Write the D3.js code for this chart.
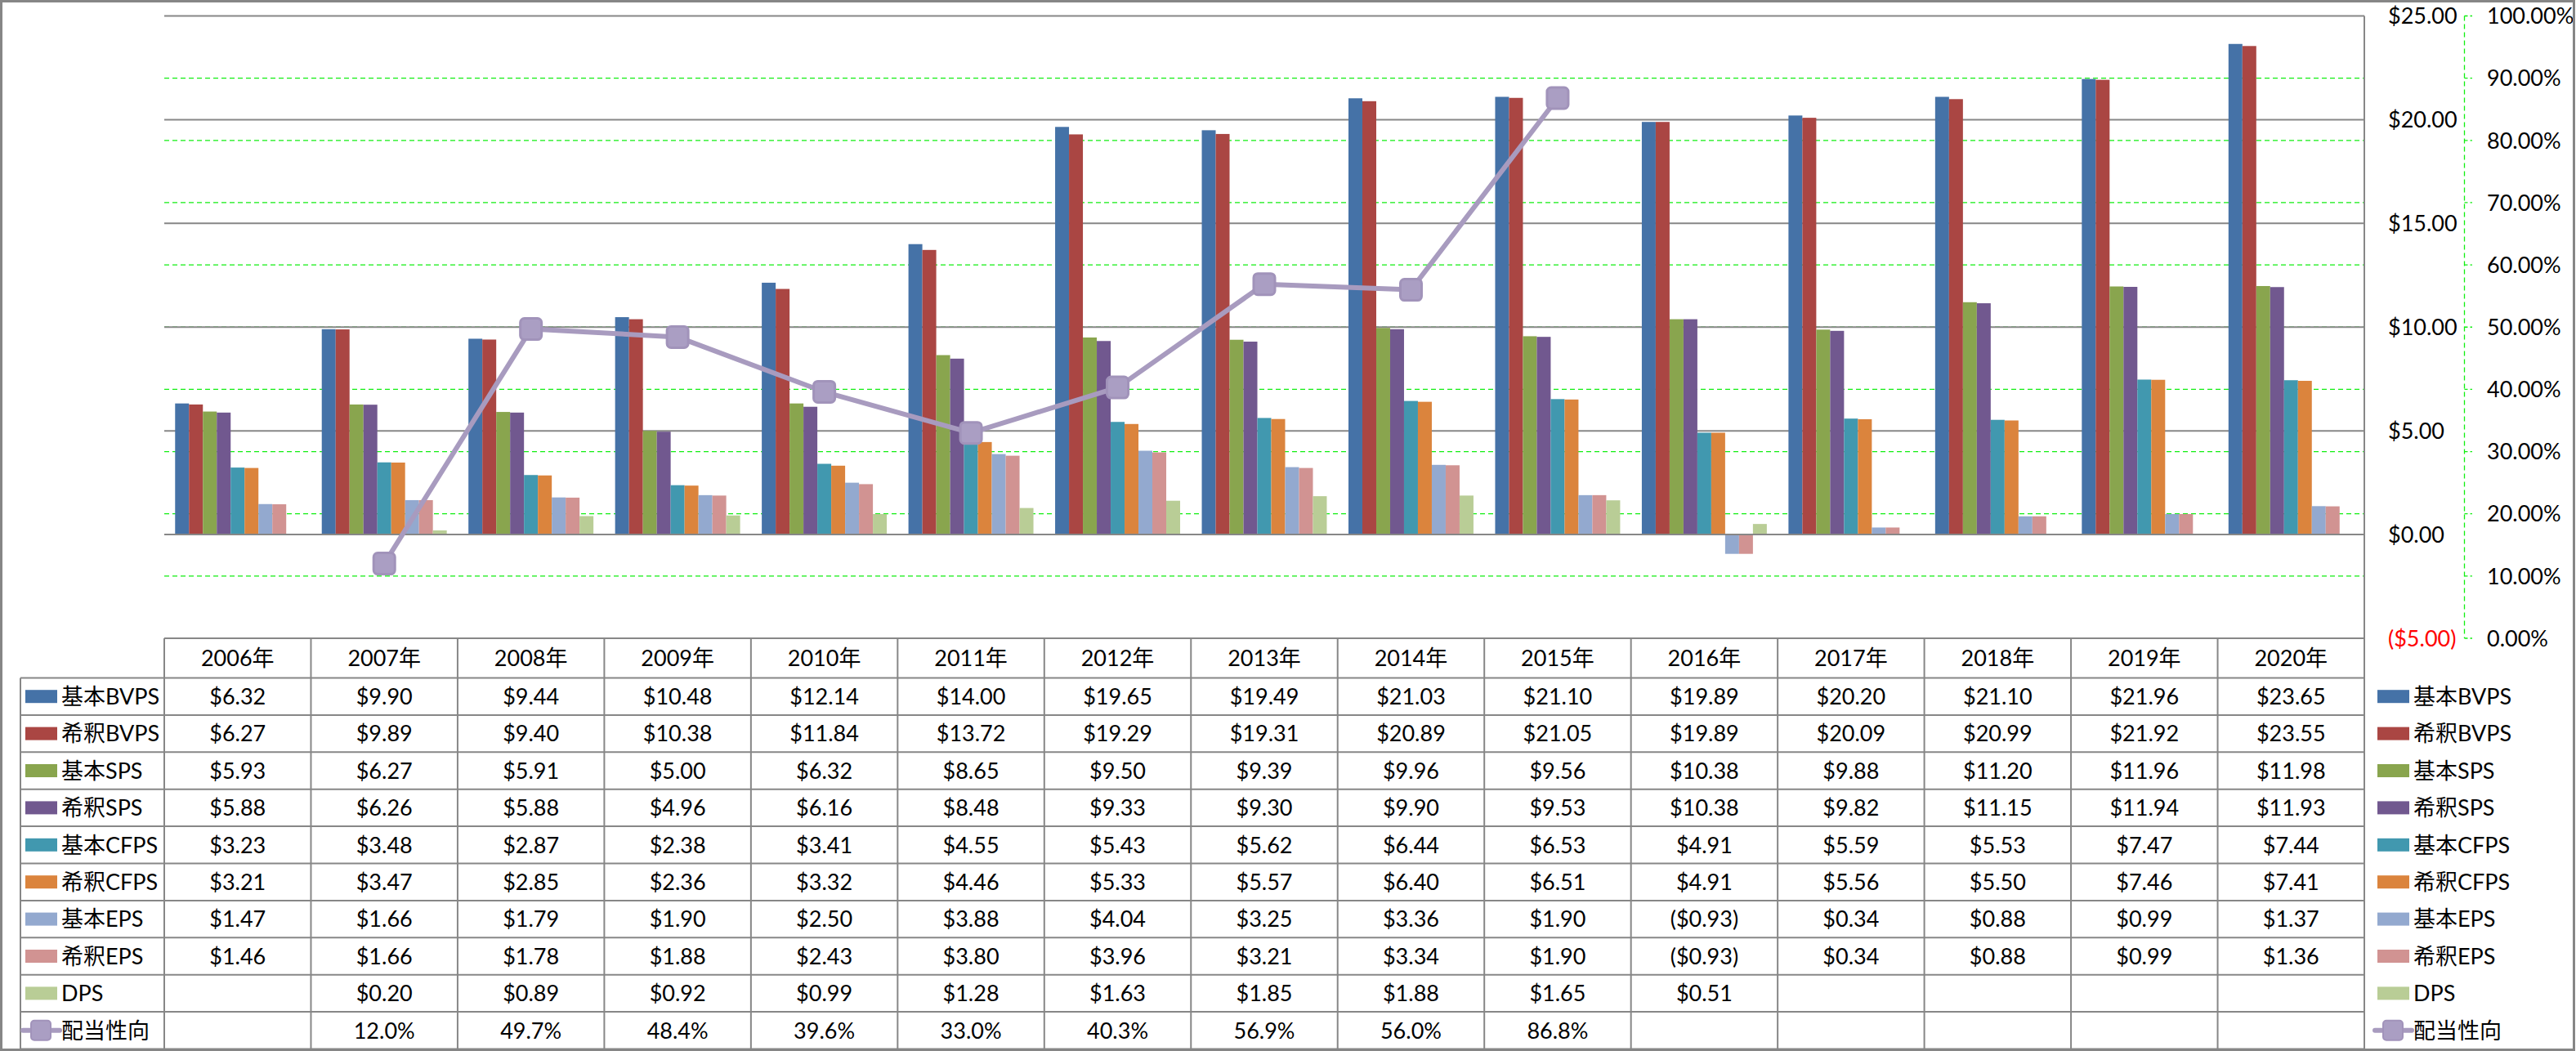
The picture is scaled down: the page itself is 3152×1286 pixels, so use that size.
<!DOCTYPE html>
<html><head><meta charset="utf-8">
<script src="https://cdn.jsdelivr.net/npm/d3@7"></script>
<style>
html,body{margin:0;padding:0;background:#fff;}
svg{display:block;}
text{font-family:Lato,"Noto Sans CJK JP",sans-serif;fill:#000;}
</style></head>
<body>
<svg id="chart" width="3152" height="1286"></svg>
<script>
const years = ["2006年","2007年","2008年","2009年","2010年","2011年","2012年","2013年","2014年","2015年","2016年","2017年","2018年","2019年","2020年"];
const seriesNames = ["基本BVPS","希釈BVPS","基本SPS","希釈SPS","基本CFPS","希釈CFPS","基本EPS","希釈EPS","DPS"];
const lineName = "配当性向";
const basicBVPS   = [6.32, 9.90, 9.44, 10.48, 12.14, 14.00, 19.65, 19.49, 21.03, 21.10, 19.89, 20.20, 21.10, 21.96, 23.65];
const dilutedBVPS = [6.27, 9.89, 9.40, 10.38, 11.84, 13.72, 19.29, 19.31, 20.89, 21.05, 19.89, 20.09, 20.99, 21.92, 23.55];
const basicSPS    = [5.93, 6.27, 5.91, 5.00, 6.32, 8.65, 9.50, 9.39, 9.96, 9.56, 10.38, 9.88, 11.20, 11.96, 11.98];
const dilutedSPS  = [5.88, 6.26, 5.88, 4.96, 6.16, 8.48, 9.33, 9.30, 9.90, 9.53, 10.38, 9.82, 11.15, 11.94, 11.93];
const basicCFPS   = [3.23, 3.48, 2.87, 2.38, 3.41, 4.55, 5.43, 5.62, 6.44, 6.53, 4.91, 5.59, 5.53, 7.47, 7.44];
const dilutedCFPS = [3.21, 3.47, 2.85, 2.36, 3.32, 4.46, 5.33, 5.57, 6.40, 6.51, 4.91, 5.56, 5.50, 7.46, 7.41];
const basicEPS    = [1.47, 1.66, 1.79, 1.90, 2.50, 3.88, 4.04, 3.25, 3.36, 1.90, -0.93, 0.34, 0.88, 0.99, 1.37];
const dilutedEPS  = [1.46, 1.66, 1.78, 1.88, 2.43, 3.80, 3.96, 3.21, 3.34, 1.90, -0.93, 0.34, 0.88, 0.99, 1.36];
const DPS         = [null, 0.20, 0.89, 0.92, 0.99, 1.28, 1.63, 1.85, 1.88, 1.65, 0.51, null, null, null, null];
const payout      = [null, 0.120, 0.497, 0.484, 0.396, 0.330, 0.403, 0.569, 0.560, 0.868, null, null, null, null, null];
const yTicks = [-5, 0, 5, 10, 15, 20, 25];
const y2Ticks = [0, 0.1, 0.2, 0.3, 0.4, 0.5, 0.6, 0.7, 0.8, 0.9, 1.0];

const barSeries = [basicBVPS, dilutedBVPS, basicSPS, dilutedSPS, basicCFPS, dilutedCFPS, basicEPS, dilutedEPS, DPS];
const colors = ["#4572A7","#AA4643","#89A54E","#71588F","#4198AF","#DB843D","#93A9CF","#D19392","#B9CD96"];
const lineColor = "#a89bbf";

const svg = d3.select("#chart");
const W = 3152, H = 1286;
const plotL = 201, plotR = 2893, plotT = 19.5, plotB = 781;
const tableTop = plotB, headerH = 48.5, rowH = 45.4;
const fs = 27;

const x0 = d3.scaleBand().domain(years).range([plotL, plotR]).paddingInner(0).paddingOuter(0);
const x1 = d3.scaleBand().domain(d3.range(9)).range([0, x0.bandwidth()]).paddingInner(0).paddingOuter(0.78);
const y = d3.scaleLinear().domain([-5, 25]).range([plotB, plotT]);
const y2 = d3.scaleLinear().domain([0, 1]).range([plotB, plotT]);

// green dashed gridlines (secondary axis)
svg.append("g").selectAll("line").data(y2Ticks.filter(t => t > 0 && t < 1)).join("line")
  .attr("x1", plotL).attr("x2", plotR).attr("y1", d => y2(d)).attr("y2", d => y2(d))
  .attr("stroke", "#11ee11").attr("stroke-width", 1.3).attr("stroke-dasharray", "6,4");

// gray gridlines (primary axis)
svg.append("g").selectAll("line").data(yTicks.filter(t => t > -5)).join("line")
  .attr("x1", plotL).attr("x2", plotR).attr("y1", d => y(d)).attr("y2", d => y(d))
  .attr("stroke", "#878787").attr("stroke-width", 2);

// bars
const gBars = svg.append("g");
barSeries.forEach((arr, si) => {
  gBars.append("g").selectAll("rect").data(arr.map((v, i) => ({v, i})).filter(d => d.v !== null)).join("rect")
    .attr("x", d => x0(years[d.i]) + x1(si))
    .attr("width", x1.bandwidth())
    .attr("y", d => y(Math.max(0, d.v)))
    .attr("height", d => Math.abs(y(d.v) - y(0)))
    .attr("fill", colors[si]);
});

// axis line at zero redraw
svg.append("line").attr("x1", plotL).attr("x2", plotR).attr("y1", y(0)).attr("y2", y(0))
  .attr("stroke", "#878787").attr("stroke-width", 2);

// payout line
const linePts = payout.map((v, i) => ({v, i})).filter(d => d.v !== null);
const lineGen = d3.line().x(d => x0(years[d.i]) + x0.bandwidth() / 2).y(d => y2(d.v));
svg.append("path").datum(linePts).attr("d", lineGen).attr("fill", "none")
  .attr("stroke", lineColor).attr("stroke-width", 6).attr("stroke-linejoin", "round");
svg.append("g").selectAll("rect").data(linePts).join("rect")
  .attr("x", d => x0(years[d.i]) + x0.bandwidth() / 2 - 13)
  .attr("y", d => y2(d.v) - 13)
  .attr("width", 26).attr("height", 26).attr("rx", 5)
  .attr("fill", "#aa9ec3").attr("stroke", "#a193ba").attr("stroke-width", 3);

// right border of plot (primary axis line)
svg.append("line").attr("x1", plotR).attr("x2", plotR).attr("y1", plotT).attr("y2", 1283.5)
  .attr("stroke", "#878787").attr("stroke-width", 2);

// primary axis labels
const fmtMoney = v => v < 0 ? "($" + d3.format(".2f")(-v) + ")" : "$" + d3.format(".2f")(v);
svg.append("g").selectAll("text").data(yTicks).join("text")
  .attr("x", 2922).attr("y", d => y(d)).attr("dy", "0.36em")
  .attr("font-size", fs)
  .style("fill", d => d < 0 ? "#ff0000" : "#000")
  .text(d => fmtMoney(d));

// secondary axis
svg.append("line").attr("x1", 3015.5).attr("x2", 3015.5).attr("y1", y2(1)).attr("y2", y2(0))
  .attr("stroke", "#11ee11").attr("stroke-width", 1.3).attr("stroke-dasharray", "6,4");
svg.append("g").selectAll("line").data(y2Ticks).join("line")
  .attr("x1", 3015.5).attr("x2", 3025).attr("y1", d => y2(d)).attr("y2", d => y2(d))
  .attr("stroke", "#11ee11").attr("stroke-width", 1.3).attr("stroke-dasharray", "4,3");
svg.append("g").selectAll("text").data(y2Ticks).join("text")
  .attr("x", 3043).attr("y", d => y2(d)).attr("dy", "0.36em")
  .attr("font-size", fs)
  .text(d => d3.format(".2%")(d));

// data table
const gT = svg.append("g");
const rowY = i => tableTop + headerH + i * rowH;
const tableBottom = rowY(10);
gT.append("line").attr("x1", plotL).attr("x2", plotR).attr("y1", tableTop).attr("y2", tableTop)
  .attr("stroke", "#878787").attr("stroke-width", 2);
gT.append("g").selectAll("line").data(d3.range(11)).join("line")
  .attr("x1", 25).attr("x2", plotR).attr("y1", d => rowY(d)).attr("y2", d => rowY(d))
  .attr("stroke", "#878787").attr("stroke-width", 2);
gT.append("line").attr("x1", 25).attr("x2", 25).attr("y1", rowY(0)).attr("y2", tableBottom)
  .attr("stroke", "#878787").attr("stroke-width", 2);
gT.append("g").selectAll("line").data(years).join("line")
  .attr("x1", d => x0(d)).attr("x2", d => x0(d)).attr("y1", tableTop).attr("y2", tableBottom)
  .attr("stroke", "#878787").attr("stroke-width", 2);
gT.append("g").selectAll("text").data(years).join("text")
  .attr("x", d => x0(d) + x0.bandwidth() / 2).attr("y", tableTop + headerH / 2).attr("dy", "0.36em")
  .attr("text-anchor", "middle").attr("font-size", fs).text(d => d);
barSeries.forEach((arr, si) => {
  gT.append("g").selectAll("text").data(arr.map((v, i) => ({v, i})).filter(d => d.v !== null)).join("text")
    .attr("x", d => x0(years[d.i]) + x0.bandwidth() / 2).attr("y", rowY(si) + rowH / 2).attr("dy", "0.36em")
    .attr("text-anchor", "middle").attr("font-size", fs).text(d => fmtMoney(d.v));
});
gT.append("g").selectAll("text").data(linePts).join("text")
  .attr("x", d => x0(years[d.i]) + x0.bandwidth() / 2).attr("y", rowY(9) + rowH / 2).attr("dy", "0.36em")
  .attr("text-anchor", "middle").attr("font-size", fs).text(d => d3.format(".1%")(d.v));

// legend keys (in table and on right)
function drawLegend(g, keyX, textX) {
  seriesNames.forEach((name, si) => {
    const cy = rowY(si) + rowH / 2;
    g.append("rect").attr("x", keyX).attr("y", cy - 8).attr("width", 39).attr("height", 16).attr("fill", colors[si]);
    g.append("text").attr("x", textX).attr("y", cy).attr("dy", "0.36em").attr("font-size", fs).text(name);
  });
  const cy = rowY(9) + rowH / 2;
  g.append("line").attr("x1", keyX - 3).attr("x2", keyX + 42).attr("y1", cy).attr("y2", cy)
    .attr("stroke", lineColor).attr("stroke-width", 6).attr("stroke-linecap", "round");
  g.append("rect").attr("x", keyX + 7).attr("y", cy - 12).attr("width", 24).attr("height", 24).attr("rx", 4)
    .attr("fill", "#aa9ec3").attr("stroke", "#a193ba").attr("stroke-width", 2);
  g.append("text").attr("x", textX).attr("y", cy).attr("dy", "0.36em").attr("font-size", fs).text(lineName);
}
drawLegend(svg.append("g"), 31, 75);
drawLegend(svg.append("g"), 2909, 2953);

// outer frame
svg.append("rect").attr("x", 1.5).attr("y", 1.5).attr("width", W - 4).attr("height", H - 3)
  .attr("fill", "none").attr("stroke", "#868686").attr("stroke-width", 3);
</script>
</body></html>
